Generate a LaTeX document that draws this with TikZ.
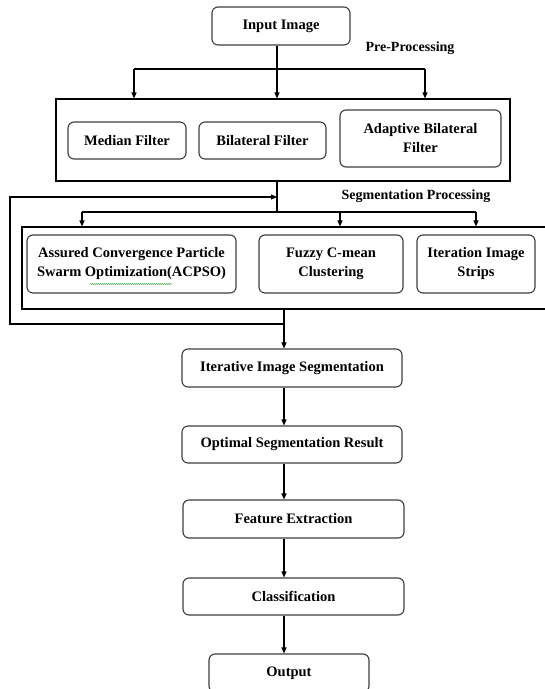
\documentclass[tikz,border=0pt]{standalone}
\usepackage{fontspec}
\setmainfont{Liberation Serif}
\usetikzlibrary{arrows.meta, positioning, calc, decorations.pathmorphing}
\definecolor{bDark}{HTML}{3C3C3C}
\definecolor{wGreen}{HTML}{4CAF50}

\begin{document}
\begin{tikzpicture}[x=1pt, y=-1pt,
      >={Triangle[length=6pt, width=5pt]}, line width=1.1pt,
      stepbox/.style={draw=bDark, rounded corners=6pt, align=center, inner sep=0pt,
                      font=\fontsize{14.5}{19}\selectfont\bfseries},
      stage/.style={draw=black, inner sep=0pt},
      lbl/.style={font=\fontsize{14}{16}\selectfont\bfseries}]
    \useasboundingbox (0,0) rectangle (545,689);
    \clip (0,0) rectangle (545,689);
    % pre-processing
    \node[stepbox, minimum width=138pt, minimum height=38pt] (input) at (281,26) {Input Image};
    \node[lbl] (prelbl) at (410,48) {Pre-Processing};
    \node[stage, minimum width=454pt, minimum height=82pt] (pre) at (283,140) {};
    \node[stepbox, minimum width=118pt, minimum height=37pt] (median) at (127,140.5) {Median Filter};
    \node[stepbox, minimum width=127pt, minimum height=37pt] (bilat) at (262.5,140.5) {Bilateral Filter};
    \node[stepbox, minimum width=161pt, minimum height=57pt] (adapt) at (420.5,138.5) {Adaptive Bilateral\\Filter};
    \coordinate (split1) at (277,69);
    \coordinate (splitL) at (134,69);
    \coordinate (splitR) at (425,69);
    \draw (input.south -| split1) -- (split1);
    \draw (splitL) -- (splitR);
    \draw[->] (splitL) -- (splitL |- pre.north);
    \draw[->] (split1) -- (split1 |- pre.north);
    \draw[->] (splitR) -- (splitR |- pre.north);
    % segmentation
    \node[lbl] (seglbl) at (416,196) {Segmentation Processing};
    \node[stage, minimum width=530pt, minimum height=82pt] (seg) at (287,268) {};
    \node[stepbox, minimum width=209pt, minimum height=58pt] (acpso) at (131.5,264) {Assured Convergence Particle\\Swarm Optimization(ACPSO)};
    \node[stepbox, minimum width=144pt, minimum height=58pt] (fuzzy) at (331,264) {Fuzzy C-mean\\Clustering};
    \node[stepbox, minimum width=118pt, minimum height=58pt] (strips) at (476,264) {Iteration Image\\Strips};
    \coordinate (split2) at (277,212);
    \coordinate (segL) at (82,212);
    \coordinate (segM) at (340,212);
    \coordinate (segR) at (476,212);
    \draw (pre.south -| split2) -- (split2);
    \draw (segL) -- (segR);
    \draw[->] (segL) -- (segL |- seg.north);
    \draw[->] (segM) -- (segM |- seg.north);
    \draw[->] (segR) -- (segR |- seg.north);
    \draw[wGreen, line width=0.5pt, decorate, decoration={snake, segment length=2pt, amplitude=0.6pt}]
      (90,284) -- (172,284);
    % feedback loop
    \coordinate (col) at (284,324);
    \coordinate (back) at (277,197);
    \draw[->] (col) -| (10,0 |- back) -- (back);
    % main column
    \node[stepbox, minimum width=220pt, minimum height=38pt] (iter) at (292,368) {Iterative Image Segmentation};
    \node[stepbox, minimum width=220pt, minimum height=37pt] (optim) at (292,444.5) {Optimal Segmentation Result};
    \node[stepbox, minimum width=221pt, minimum height=38pt] (feat) at (293.5,519) {Feature Extraction};
    \node[stepbox, minimum width=221pt, minimum height=37pt] (classif) at (293.5,596.5) {Classification};
    \node[stepbox, minimum width=160pt, minimum height=38pt] (output) at (289,673) {Output};
    \draw[->] (seg.south -| col) -- (iter.north -| col);
    \draw[->] (iter.south -| col) -- (optim.north -| col);
    \draw[->] (optim.south -| col) -- (feat.north -| col);
    \draw[->] (feat.south -| col) -- (classif.north -| col);
    \draw[->] (classif.south -| col) -- (output.north -| col);
\end{tikzpicture}
\end{document}
